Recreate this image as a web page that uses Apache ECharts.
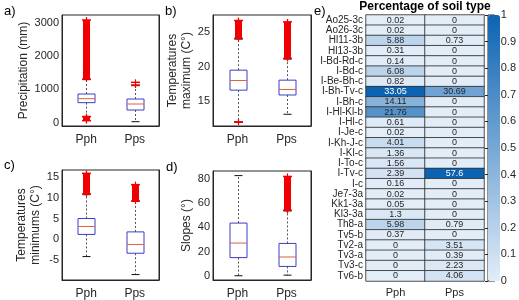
<!DOCTYPE html>
<html>
<head>
<meta charset="utf-8">
<script src="https://cdn.jsdelivr.net/npm/echarts@6/dist/echarts.min.js"></script>
<style>
  html, body {margin: 0; padding: 0; background: #fff;}
  #main {width: 519px; height: 300px;}
</style>
</head>
<body>
<div id="main"></div>
<script>
var groups = ['Pph', 'Pps'];

// box stats: [group, lower whisker, q1, median, q3, upper whisker]
var precipBoxes = [[0, 190, 600, 720, 860, 1290], [1, 30, 380, 560, 710, 1110]];
var tmaxBoxes = [[0, 12.0, 16.6, 18.0, 19.5, 24.0], [1, 13.1, 15.9, 16.7, 18.05, 21.1]];
var tminBoxes = [[0, -4.1, 1.2, 3.1, 5.0, 10.7], [1, -8.4, -3.3, -1.2, 1.8, 9.1]];
var slopeBoxes = [[0, 0, 15, 27, 43.5, 82.7], [1, 0.5, 7.7, 15.5, 26.7, 53.5]];

// outlier runs: [group, lowest, highest] (dense '+' markers look like a bar)
var precipOutliers = [[0, 1310, 3080], [0, 60, 180], [1, 1130, 1210]];
var tmaxOutliers = [[0, 24.1, 26.7], [0, 11.95, 11.95], [1, 21.2, 26.5]];
var tminOutliers = [[0, 10.9, 15.8], [1, 9.2, 13.1]];
var slopeOutliers = [[1, 54, 82]];

var precipTicks = [0, 1000, 2000, 3000];
var tmaxTicks = [15, 20, 25];
var tminTicks = [-5, 0, 5, 10, 15];
var slopeTicks = [0, 20, 40, 60, 80];

var soilTypes = ['Ao25-3c', 'Ao26-3c', 'Hl11-3b', 'Hl13-3b', 'I-Bd-Rd-c', 'I-Bd-c', 'I-Be-Bh-c',
  'I-Bh-Tv-c', 'I-Bh-c', 'I-Hl-Kl-b', 'I-Hl-c', 'I-Je-c', 'I-Kh-J-c', 'I-Kl-c', 'I-To-c', 'I-Tv-c',
  'I-c', 'Je7-3a', 'Kk1-3a', 'Kl3-3a', 'Th8-a', 'Tv5-b', 'Tv2-a', 'Tv3-a', 'Tv3-c', 'Tv6-b'];
var pphPercent = [0.02, 0.02, 5.88, 0.31, 0.14, 6.08, 0.82, 33.05, 14.11, 21.76, 0.61, 0.02, 4.01,
  1.36, 1.56, 2.39, 0.16, 0.02, 0.05, 1.3, 5.98, 0.37, 0, 0, 0, 0];
var ppsPercent = [0, 0, 0.73, 0, 0, 0, 0, 30.69, 0, 0, 0, 0, 0, 0, 0, 57.6, 0, 0, 0, 0, 0.79, 0,
  3.51, 0.39, 2.23, 4.06];

var ink = '#262626';
var font = 'Liberation Sans, Arial, sans-serif';

// heatmap cells, colour scaled by the column max
var heatData = [];
[pphPercent, ppsPercent].forEach(function (col, ci) {
  var mx = Math.max.apply(null, col);
  col.forEach(function (v, ri) {
    var n = v / mx;
    heatData.push({
      value: [ci, ri, n, v],
      label: {color: n > 0.8 ? '#fff' : ink}
    });
  });
});

function renderBox(params, api) {
  var g = api.value(0);
  var lo = api.coord([g, api.value(1)]);
  var q1 = api.coord([g, api.value(2)]);
  var md = api.coord([g, api.value(3)]);
  var q3 = api.coord([g, api.value(4)]);
  var hi = api.coord([g, api.value(5)]);
  var cx = Math.round(lo[0]) + 0.5, hw = 8.5, cw = 4;
  var dash = {stroke: '#555', lineWidth: 1, lineDash: [2, 2]};
  return {
    type: 'group',
    children: [
      {type: 'line', shape: {x1: cx, y1: q3[1], x2: cx, y2: hi[1]}, style: dash},
      {type: 'line', shape: {x1: cx, y1: q1[1], x2: cx, y2: lo[1]}, style: dash},
      {type: 'line', shape: {x1: cx - cw, y1: hi[1], x2: cx + cw, y2: hi[1]}, style: {stroke: '#111', lineWidth: 1}},
      {type: 'line', shape: {x1: cx - cw, y1: lo[1], x2: cx + cw, y2: lo[1]}, style: {stroke: '#111', lineWidth: 1}},
      {type: 'rect', shape: {x: cx - hw, y: q3[1], width: hw * 2, height: q1[1] - q3[1]},
        style: {fill: 'rgba(0,0,0,0)', stroke: '#3c3cc8', lineWidth: 1}},
      {type: 'line', shape: {x1: cx - hw, y1: md[1], x2: cx + hw, y2: md[1]}, style: {stroke: '#e0603a', lineWidth: 1}}
    ]
  };
}

function renderOutliers(params, api) {
  var g = api.value(0);
  var lo = api.coord([g, api.value(1)]);
  var hi = api.coord([g, api.value(2)]);
  var cx = Math.round(lo[0]) + 0.5, hw = 3.5, arm = 4.5;
  var red = '#f00000';
  var kids = [
    {type: 'line', shape: {x1: cx - arm, y1: hi[1], x2: cx + arm, y2: hi[1]}, style: {stroke: red, lineWidth: 1.5}},
    {type: 'line', shape: {x1: cx - arm, y1: lo[1], x2: cx + arm, y2: lo[1]}, style: {stroke: red, lineWidth: 1.5}},
    {type: 'line', shape: {x1: cx, y1: hi[1] - 3, x2: cx, y2: lo[1] + 3}, style: {stroke: red, lineWidth: 1.2}}
  ];
  if (lo[1] - hi[1] > 3) {
    kids.push({type: 'rect', shape: {x: cx - hw, y: hi[1], width: hw * 2, height: lo[1] - hi[1]}, style: {fill: red}});
  }
  return {type: 'group', children: kids};
}

var boxGrids = [
  {left: 62, top: 15, width: 97, height: 111},
  {left: 213, top: 15, width: 98, height: 111},
  {left: 62, top: 170, width: 97, height: 111},
  {left: 213, top: 171, width: 98, height: 110}
];
var panels = [
  {boxes: precipBoxes, out: precipOutliers, ticks: precipTicks, min: -100, max: 3230, name: 'Precipitation (mm)', gap: 31},
  {boxes: tmaxBoxes, out: tmaxOutliers, ticks: tmaxTicks, min: 11.4, max: 27.5, name: 'Temperatures\nmaximum (C°)', gap: 16},
  {boxes: tminBoxes, out: tminOutliers, ticks: tminTicks, min: -9.7, max: 16.6, name: 'Temperatures\nminimums (C°)', gap: 19},
  {boxes: slopeBoxes, out: slopeOutliers, ticks: slopeTicks, min: -3.5, max: 86.5, name: 'Slopes (°)', gap: 16}
];

var grids = [], xAxes = [], yAxes = [], series = [];
panels.forEach(function (p, i) {
  grids.push(Object.assign({show: true, borderColor: ink, borderWidth: 1, backgroundColor: 'transparent'}, boxGrids[i]));
  xAxes.push({
    type: 'category', gridIndex: i, data: groups,
    axisLine: {onZero: false, lineStyle: {color: ink}},
    axisTick: {inside: true, alignWithLabel: true, length: 3, lineStyle: {color: ink}},
    axisLabel: {color: ink, fontSize: 12, fontFamily: font, margin: 8}
  });
  yAxes.push({
    type: 'value', gridIndex: i, min: p.min, max: p.max,
    name: p.name, nameLocation: 'middle', nameRotate: 90, nameGap: p.gap,
    nameTextStyle: {color: ink, fontSize: 12, fontFamily: font, lineHeight: 14},
    splitLine: {show: false},
    axisLine: {show: true, onZero: false, lineStyle: {color: ink}},
    axisTick: {inside: true, length: 3, customValues: p.ticks, lineStyle: {color: ink}},
    axisLabel: {color: ink, fontSize: 11, fontFamily: font, margin: 3, customValues: p.ticks,
      formatter: function (v) { return String(v); }}
  });
  yAxes.push({
    type: 'value', gridIndex: i, min: p.min, max: p.max, position: 'right',
    splitLine: {show: false},
    axisLine: {show: true, onZero: false, lineStyle: {color: ink}},
    axisTick: {inside: true, length: 3, customValues: p.ticks, lineStyle: {color: ink}},
    axisLabel: {show: false}
  });
  series.push({
    type: 'custom', xAxisIndex: i, yAxisIndex: i * 2, data: p.boxes,
    encode: {x: 0, y: [1, 2, 3, 4, 5]}, renderItem: renderBox, silent: true
  });
  series.push({
    type: 'custom', xAxisIndex: i, yAxisIndex: i * 2, data: p.out,
    encode: {x: 0, y: [1, 2]}, renderItem: renderOutliers, silent: true, z: 3
  });
});

// heatmap grid (index 4) and colour bar grid (index 5)
grids.push({left: 366, top: 15, width: 118, height: 266});
grids.push({left: 488, top: 15, width: 12, height: 266, show: true, borderColor: ink, borderWidth: 1, backgroundColor: 'transparent'});
xAxes.push({
  type: 'category', gridIndex: 4, data: groups,
  axisLine: {show: false}, axisTick: {show: false},
  axisLabel: {color: ink, fontSize: 11, fontFamily: font, margin: 6}
});
xAxes.push({type: 'value', gridIndex: 5, show: false, min: 0, max: 1});
yAxes.push({
  type: 'category', gridIndex: 4, data: soilTypes, inverse: true,
  axisLine: {show: false}, axisTick: {show: false},
  axisLabel: {color: ink, fontSize: 10, fontFamily: font, margin: 3, interval: 0}
});
yAxes.push({
  type: 'value', gridIndex: 5, min: 0, max: 1, interval: 0.1, position: 'right',
  splitLine: {show: false}, axisLine: {show: false},
  axisTick: {inside: true, length: 3, lineStyle: {color: ink}},
  axisLabel: {color: ink, fontSize: 11, fontFamily: font, margin: 6,
    formatter: function (v) { return String(Math.round(v * 10) / 10); }}
});
series.push({
  type: 'heatmap', xAxisIndex: 4, yAxisIndex: 8, data: heatData,
  itemStyle: {borderColor: '#2a2a2a', borderWidth: 0.8},
  label: {
    show: true, fontSize: 9, fontFamily: font,
    formatter: function (p) { return p.value[3]; }
  },
  emphasis: {disabled: true}
});

var option = {
  animation: false,
  backgroundColor: '#fff',
  grid: grids,
  xAxis: xAxes,
  yAxis: yAxes,
  visualMap: {
    type: 'continuous', min: 0, max: 1, dimension: 2, seriesIndex: 8,
    orient: 'vertical', left: 488, top: 15, itemWidth: 12, itemHeight: 266,
    padding: 0, text: ['', ''], textGap: 0, calculable: false, hoverLink: false,
    inRange: {color: ['#e2edf8', '#0c63b2']}
  },
  graphic: [
    {type: 'text', left: 4, top: 5, style: {text: 'a)', font: '13px ' + font, fill: '#000'}},
    {type: 'text', left: 165, top: 5, style: {text: 'b)', font: '13px ' + font, fill: '#000'}},
    {type: 'text', left: 4, top: 159, style: {text: 'c)', font: '13px ' + font, fill: '#000'}},
    {type: 'text', left: 166, top: 161, style: {text: 'd)', font: '13px ' + font, fill: '#000'}},
    {type: 'text', left: 314, top: 5, style: {text: 'e)', font: '13px ' + font, fill: '#000'}},
    {type: 'text', x: 425, y: 1, style: {text: 'Percentage of soil type', font: 'bold 12px ' + font, fill: '#000', textAlign: 'center'}}
  ],
  series: series
};

var chart = echarts.init(document.getElementById('main'));
chart.setOption(option);
</script>
</body>
</html>
